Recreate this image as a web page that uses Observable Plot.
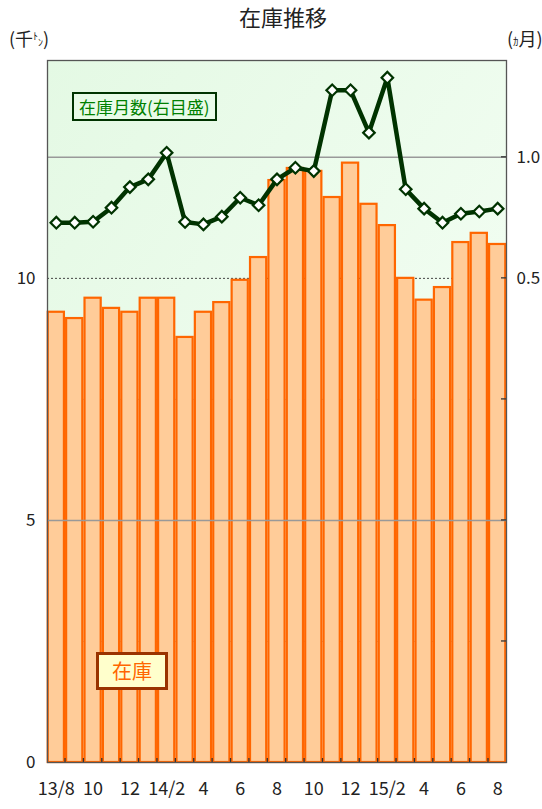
<!DOCTYPE html>
<html><head><meta charset="utf-8">
<script src="https://cdn.jsdelivr.net/npm/d3@7"></script>
<script src="https://cdn.jsdelivr.net/npm/@observablehq/plot@0.6"></script>
<style>
body{margin:0;background:#fff;font-family:"Noto Sans CJK JP",sans-serif;}
#wrap{position:relative;width:542px;height:809px;overflow:hidden;}
.ov{position:absolute;white-space:nowrap;line-height:1;}
</style></head><body>
<div id="wrap"></div>
<script>
const months = ["13/8","13/9","13/10","13/11","13/12","14/1","14/2","14/3","14/4","14/5","14/6","14/7","14/8","14/9","14/10","14/11","14/12","15/1","15/2","15/3","15/4","15/5","15/6","15/7","15/8"];
const stock = [9.30,9.17,9.59,9.38,9.30,9.59,9.59,8.78,9.30,9.50,9.96,10.43,12.02,12.27,12.21,11.67,12.38,11.53,11.09,10.00,9.55,9.81,10.74,10.93,10.70];
const stockMonths = [0.730,0.730,0.734,0.792,0.877,0.909,1.019,0.733,0.723,0.755,0.833,0.802,0.909,0.957,0.943,1.277,1.277,1.102,1.329,0.868,0.788,0.730,0.767,0.776,0.788];
const xTickLabels = ["13/8","10","12","14/2","4","6","8","10","12","15/2","4","6","8"];
const leftTicks = [0,5,10];
const rightTicks = [1.0,0.5,0,-0.5,-1.0];
const rightLabels = ["1.0","0.5","","",""];

const toLeft = r => 7.5 + 5*r;
const data = months.map((m,i)=>({month:m, stock:stock[i], ratio:stockMonths[i]}));
const xTicks = months.filter((d,i)=>i%2===0);

const background = (index, scales, values, dims) => {
  const g = d3.create("svg:g");
  const defs = g.append("defs");
  const lg = defs.append("linearGradient").attr("id","bgGrad").attr("x1","0").attr("y1","0").attr("x2","1").attr("y2","1");
  lg.append("stop").attr("offset","0").attr("stop-color","#e4f9e4");
  lg.append("stop").attr("offset","1").attr("stop-color","#f7fff7");
  g.append("rect").attr("x",dims.marginLeft).attr("y",dims.marginTop)
    .attr("width",dims.width-dims.marginLeft-dims.marginRight)
    .attr("height",dims.height-dims.marginTop-dims.marginBottom)
    .attr("fill","url(#bgGrad)");
  return g.node();
};

// inward tick marks on the right axis and between bars on the bottom axis
const innerTicks = (index, scales, values, dims) => {
  const g = d3.create("svg:g").attr("stroke","#333").attr("stroke-width",1.3);
  const xr = dims.width - dims.marginRight;
  const yb = dims.height - dims.marginBottom;
  rightTicks.forEach(t => {
    const y = scales.y(toLeft(t));
    g.append("line").attr("x1",xr-5).attr("x2",xr).attr("y1",y).attr("y2",y);
  });
  const step = scales.x.step ? scales.x.step() : scales.x.bandwidth();
  const bw = scales.x.bandwidth();
  months.slice(1).forEach(m => {
    const x = scales.x(m) - (step - bw)/2;
    g.append("line").attr("x1",x).attr("x2",x).attr("y1",yb-4).attr("y2",yb);
  });
  return g.node();
};

const chart = Plot.plot({
  width:542, height:809,
  marginLeft:47, marginRight:36, marginTop:60, marginBottom:47,
  style:{fontFamily:"'Noto Sans CJK JP',sans-serif", fontSize:"17px", color:"#222", background:"transparent"},
  x:{type:"band", domain:months, round:false, paddingInner:0.12, paddingOuter:0.04, ticks:xTicks,
     tickFormat:(d)=>xTickLabels[xTicks.indexOf(d)], tickSize:0, tickPadding:20, label:null},
  y:{domain:[0,14.5], axis:"right", ticks:rightTicks.map(toLeft),
     tickFormat:(d)=>rightLabels[rightTicks.map(toLeft).indexOf(d)], tickSize:0, tickPadding:10, label:null},
  marks:[
    background,
    Plot.ruleY([7.5,2.5],{stroke:"#bbb",strokeWidth:1}),
    Plot.ruleY([10],{stroke:"#444",strokeDasharray:"2,2",strokeWidth:1}),
    Plot.barY(data,{x:"month",y:"stock",fill:"#ffcc99",stroke:"#ff6600",strokeWidth:2.2}),
    Plot.ruleY([5],{stroke:"#999",strokeWidth:1.5}),
    Plot.ruleY([12.5],{stroke:"#999",strokeWidth:1.5}),
    Plot.line(data,{x:"month",y:d=>toLeft(d.ratio),stroke:"#003300",strokeWidth:4.5}),
    Plot.dot(data,{x:"month",y:d=>toLeft(d.ratio),symbol:"square",rotate:45,r:4.6,fill:"#fff",stroke:"#003300",strokeWidth:2.2}),
    Plot.text(leftTicks,{y:d=>d,text:d=>String(d),frameAnchor:"left",textAnchor:"end",dx:-12,fontSize:17,fill:"#222"}),
    innerTicks,
    Plot.frame({stroke:"#555",strokeWidth:1.3})
  ]
});
chart.querySelectorAll("g[aria-label='x-axis tick label'] text, g[aria-label='x-axis'] text").forEach(t=>t.setAttribute("font-size","18"));
const wrap = document.getElementById("wrap");
wrap.appendChild(chart);

function ov(html, css){const d=document.createElement("div");d.className="ov";d.innerHTML=html;d.style.cssText+=css;wrap.appendChild(d);}
ov("在庫推移","left:239px;top:5px;font-size:22px;color:#222;");
ov("(千<span style='font-size:10px;vertical-align:6px'>ﾄ</span><span style='font-size:10px'>ﾝ</span>)","left:9px;top:29px;font-size:18px;color:#222;");
ov("(<span style='font-size:11px'>ｶ</span>月)","left:507px;top:29px;font-size:18px;color:#222;");
ov("在庫月数(右目盛)","left:72px;top:92px;padding:4px 5px 4px 5px;font-size:17px;color:#008000;border:2px solid #003300;background:#e8fbe8;");
ov("在庫","left:96px;top:652px;padding:6px 13px;font-size:20px;color:#ff6600;border:3px solid #993300;background:#ffffcc;");
</script>
</body></html>
